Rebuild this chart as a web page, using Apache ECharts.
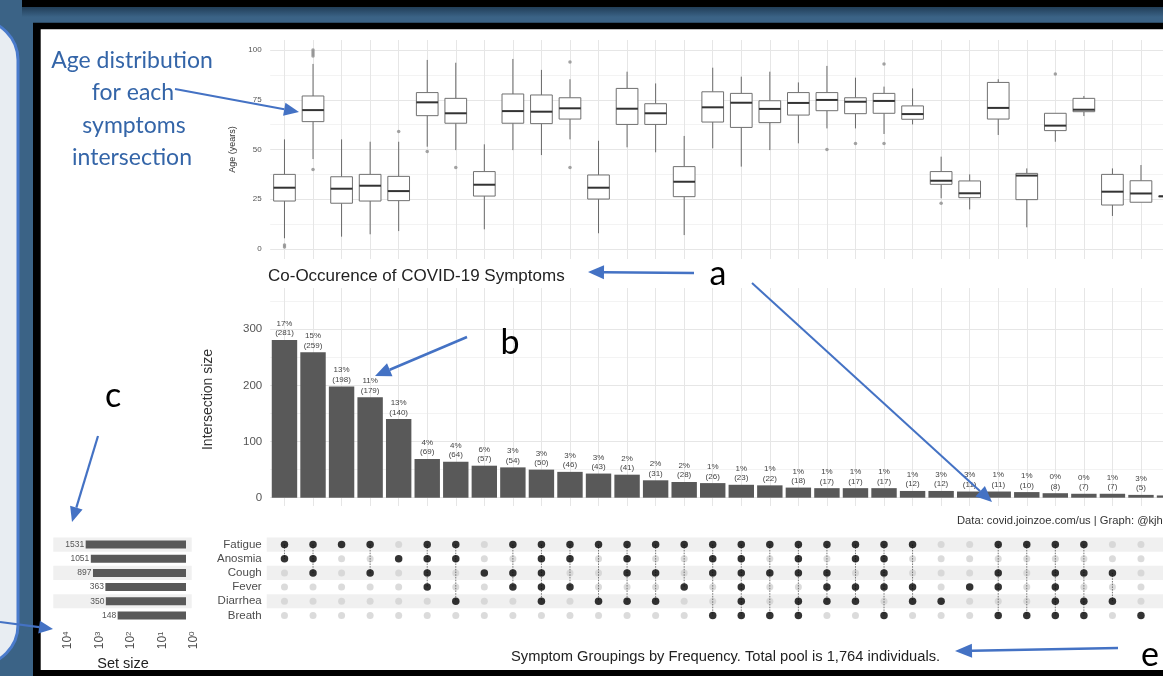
<!DOCTYPE html>
<html>
<head>
<meta charset="utf-8">
<script src="https://cdn.jsdelivr.net/npm/echarts@6/dist/echarts.min.js"></script>
<style>
  html, body { margin: 0; padding: 0; background: #3b6386; }
  #chart { width: 1163px; height: 676px; }
</style>
</head>
<body>
<div id="chart"></div>
<script>
// ---- Data -------------------------------------------------------------
const columns = ['1','2','3','4','5','6','7','8','9','10','11','12','13','14','15','16',
                 '17','18','19','20','21','22','23','24','25','26','27','28','29','30','31','32'];

// size of each symptom intersection (bar chart)
const intersectionSize = [281, 259, 198, 179, 140, 69, 64, 57, 54, 50, 46, 43, 41, 31, 28, 26,
                          23, 22, 18, 17, 17, 17, 12, 12, 11, 11, 10, 8, 7, 7, 5, 4];
const intersectionPct = ['17%','15%','13%','11%','13%','4%','4%','6%','3%','3%','3%','3%','2%','2%','2%','1%',
                         '1%','1%','1%','1%','1%','1%','1%','3%','3%','1%','1%','0%','0%','1%','3%','1%'];

// symptom sets and their sizes
const setNames = ['Fatigue', 'Anosmia', 'Cough', 'Fever', 'Diarrhea', 'Breath'];
const setSize = [1531, 1051, 897, 363, 350, 148];

// membership of each intersection (1 = symptom present)
const fatigue  = [1,1,1,1,0,1,1,0,1,1,1,1,1,1,1,1,1,1,1,1,1,1,1,0,0,1,1,1,1,0,0,0];
const anosmia  = [1,1,0,0,1,1,1,0,0,1,1,0,1,0,0,1,1,0,1,0,1,1,0,0,0,0,0,0,0,0,0,1];
const cough    = [0,1,0,1,0,1,0,1,1,1,0,0,1,1,0,1,1,1,1,1,0,1,0,0,0,1,0,1,1,1,0,1];
const fever    = [0,0,0,0,0,1,0,0,1,1,1,0,0,0,1,0,1,0,0,1,1,1,1,0,1,1,0,1,0,0,0,0];
const diarrhea = [0,0,0,0,0,0,1,0,0,1,0,1,1,1,0,0,1,0,1,1,1,0,1,1,0,0,0,1,1,1,0,0];
const breath   = [0,0,0,0,0,0,0,0,0,0,0,0,0,0,0,1,1,1,1,0,0,1,0,0,0,1,1,1,1,0,1,0];

// age distribution per intersection (whisker low, Q1, median, Q3, whisker high)
const ageMin    = [5.4, 45.2, 6.2, 7.4, 9.0, 51.4, 49.7, 9.9, 49.7, 47.2, 55.1, 7.9, 51.1, 48.6, 7.0, 50.6,
                   41.4, 49.7, 53.1, 60.6, 60.6, 57.8, 62.6, 25.5, 19.9, 57.3, 10.9, 53.9, 66.8, 16.6, 23.5, 26.5];
const ageQ1     = [24.1, 64.0, 23.0, 24.1, 24.3, 67.0, 63.2, 26.6, 63.2, 63.0, 65.3, 25.1, 62.6, 62.6, 26.3, 63.8,
                   61.1, 63.5, 67.3, 69.5, 68.0, 68.2, 65.2, 32.5, 25.8, 65.3, 24.8, 59.5, 69.0, 22.1, 23.5, 26.5];
const ageMedian = [30.8, 69.8, 30.3, 31.8, 29.1, 73.7, 68.2, 32.3, 69.3, 69.0, 70.7, 30.8, 70.5, 68.2, 33.8, 71.2,
                   73.5, 70.4, 73.4, 74.9, 74.0, 74.4, 67.8, 34.3, 28.0, 70.9, 36.9, 62.0, 70.0, 28.8, 27.9, 26.5];
const ageQ3     = [37.5, 76.9, 36.3, 37.5, 36.5, 78.6, 75.7, 38.9, 77.9, 77.4, 76.0, 37.2, 80.7, 73.0, 41.4, 79.0,
                   78.2, 74.5, 78.6, 78.6, 76.0, 78.2, 71.9, 38.9, 34.2, 83.7, 38.0, 68.2, 75.7, 37.5, 34.3, 26.5];
const ageMax    = [55.1, 93.0, 55.1, 53.9, 53.9, 95.0, 93.6, 52.6, 95.5, 90.0, 85.3, 54.4, 89.1, 83.2, 56.8, 91.1,
                   86.6, 89.1, 83.7, 92.0, 86.1, 81.6, 80.7, 46.4, 37.5, 85.3, 40.5, 68.2, 76.9, 40.5, 42.2, 26.5];

// outlying ages (intersection number, age)
const outlierColumn = [1, 1, 2, 2, 2, 2, 2, 5, 6, 7, 11, 11, 20, 21, 22, 22, 24, 28];
const outlierAge    = [1, 2, 100, 99, 98, 97, 40, 59, 49, 41, 94, 41, 50, 53, 93, 53, 23, 88];

// axis tick labels
const ageTicks = [0, 25, 50, 75, 100];
const sizeTicks = [0, 100, 200, 300];
const setSizeTicks = [1, 10, 100, 1000, 10000];

// ---- Layout ------------------------------------------------------------
const FONT = '"Liberation Sans", Arial, sans-serif';
const NOTE_FONT = 'Lato, "Open Sans", sans-serif';
const BLUE = '#4472c4';
const GRID_MAJOR = '#e6e6e6';
const GRID_MINOR = '#f3f3f3';
const PLOT_LEFT = 270.2;
const PLOT_WIDTH = 913.6;
const ROW_TOP = 537.5;
const ROW_HEIGHT = 85;

const memberRows = [fatigue, anosmia, cough, fever, diarrhea, breath];

const greyDots = [], blackDots = [], links = [];
columns.forEach((c, i) => {
  const rows = [];
  memberRows.forEach((m, r) => {
    if (m[i]) { blackDots.push([i, r]); rows.push(r); }
    else greyDots.push([i, r]);
  });
  if (rows.length > 1) links.push([i, Math.min(...rows), Math.max(...rows)]);
});

const boxData = columns.map((c, i) => [i, ageMin[i], ageQ1[i], ageMedian[i], ageQ3[i], ageMax[i]]);
const outliers = outlierColumn.map((c, k) => [columns.indexOf(String(c)), outlierAge[k]]);

function grid(o) { return Object.assign({ containLabel: false, outerBoundsMode: 'none' }, o); }

function frameX(gridIndex) {
  return {
    type: 'category', gridIndex, data: columns, boundaryGap: true,
    axisLine: { show: false }, axisTick: { show: false }, axisLabel: { show: false },
    splitLine: { show: true, interval: 0, alignWithLabel: true, lineStyle: { color: GRID_MAJOR, width: 1 } }
  };
}
function hiddenX(gridIndex) {
  return { type: 'category', gridIndex, data: columns, boundaryGap: true, show: false };
}

function arrow(x1, y1, x2, y2, w, hl, hw) {
  const a = Math.atan2(y2 - y1, x2 - x1);
  const bx = x2 - hl * Math.cos(a), by = y2 - hl * Math.sin(a);
  const px = -Math.sin(a) * hw, py = Math.cos(a) * hw;
  return [
    { type: 'line', z: 100, shape: { x1, y1, x2: bx, y2: by }, style: { stroke: BLUE, lineWidth: w } },
    { type: 'polygon', z: 100, shape: { points: [[x2, y2], [bx + px, by + py], [bx - px, by - py]] }, style: { fill: BLUE } }
  ];
}
function note(text, x, y, size, color) {
  return { type: 'text', z: 100, style: { text, x, y, font: size + 'px ' + NOTE_FONT, fill: color, align: 'center', verticalAlign: 'middle' } };
}

const chart = echarts.init(document.getElementById('chart'), null, { renderer: 'canvas' });

const option = {
  animation: false,
  backgroundColor: '#3b6386',
  textStyle: { fontFamily: FONT },
  title: [
    { text: 'Co-Occurence of COVID-19 Symptoms', left: 268, top: 268, padding: 0,
      textStyle: { fontFamily: FONT, fontSize: 17, fontWeight: 'normal', color: '#222' } },
    { text: 'Data: covid.joinzoe.com/us | Graph: @kjhealy', left: 957, top: 515, padding: 0,
      textStyle: { fontFamily: FONT, fontSize: 11.2, fontWeight: 'normal', color: '#333' } },
    { text: 'Symptom Groupings by Frequency. Total pool is 1,764 individuals.', left: 511, top: 649, padding: 0,
      textStyle: { fontFamily: FONT, fontSize: 14.7, fontWeight: 'normal', color: '#222' } }
  ],
  grid: [
    grid({ left: PLOT_LEFT, width: PLOT_WIDTH, top: 40, height: 219 }),        // 0 age frame
    grid({ left: PLOT_LEFT, width: PLOT_WIDTH, top: 50, height: 199 }),        // 1 age data
    grid({ left: PLOT_LEFT, width: PLOT_WIDTH, top: 288, height: 218 }),       // 2 bar frame
    grid({ left: PLOT_LEFT, width: PLOT_WIDTH, top: 301.2, height: 196.5 }),   // 3 bar data
    grid({ left: 266.7, width: 920, top: ROW_TOP, height: ROW_HEIGHT }),       // 4 matrix stripes
    grid({ left: PLOT_LEFT, width: PLOT_WIDTH, top: ROW_TOP, height: ROW_HEIGHT }), // 5 matrix
    grid({ left: 53.3, width: 138.4, top: ROW_TOP, height: ROW_HEIGHT }),      // 6 set-size stripes
    grid({ left: 60, width: 126, top: ROW_TOP, height: ROW_HEIGHT })           // 7 set size
  ],
  xAxis: [
    frameX(0),
    hiddenX(1),
    frameX(2),
    hiddenX(3),
    { type: 'value', gridIndex: 4, show: false, min: 0, max: 1 },
    hiddenX(5),
    { type: 'value', gridIndex: 6, show: false, min: 0, max: 1 },
    {
      type: 'log', gridIndex: 7, logBase: 10, min: 1, max: 10000, inverse: true,
      axisLine: { show: false }, axisTick: { show: false }, splitLine: { show: false },
      axisLabel: {
        rotate: 90, margin: 9, color: '#4d4d4d',
        formatter: v => setSizeTicks.includes(v) ? '{b|10}{s|' + Math.round(Math.log10(v)) + '}' : '',
        rich: {
          b: { fontFamily: FONT, fontSize: 12, color: '#4d4d4d', padding: [16, 0, 0, 0] },
          s: { fontFamily: FONT, fontSize: 8, color: '#4d4d4d', verticalAlign: 'top', padding: [16, 0, 0, 0] }
        }
      },
      name: 'Set size', nameLocation: 'middle', nameGap: 33.5,
      nameTextStyle: { fontFamily: FONT, fontSize: 14.5, color: '#222' }
    }
  ],
  yAxis: [
    { type: 'value', gridIndex: 0, show: false, min: 0, max: 1 },
    {
      type: 'value', gridIndex: 1, min: 0, max: 100, interval: 12.5,
      axisLine: { show: false }, axisTick: { show: false },
      axisLabel: { margin: 8.5, fontSize: 8, color: '#555', formatter: v => ageTicks.includes(v) ? String(v) : '' },
      splitLine: { show: true, lineStyle: { color: [GRID_MAJOR, GRID_MINOR], width: 1 } },
      name: 'Age (years)', nameLocation: 'middle', nameGap: 33,
      nameTextStyle: { fontFamily: FONT, fontSize: 9, color: '#333' }
    },
    { type: 'value', gridIndex: 2, show: false, min: 0, max: 1 },
    {
      type: 'value', gridIndex: 3, min: 0, max: 350, interval: 50,
      axisLine: { show: false }, axisTick: { show: false },
      axisLabel: { margin: 8, fontSize: 11.5, color: '#555', formatter: v => sizeTicks.includes(v) ? String(v) : '' },
      splitLine: { show: true, lineStyle: { color: [GRID_MAJOR, GRID_MINOR], width: 1 } },
      name: 'Intersection size', nameLocation: 'middle', nameGap: 55,
      nameTextStyle: { fontFamily: FONT, fontSize: 14, color: '#333' }
    },
    {
      type: 'category', gridIndex: 4, data: setNames, inverse: true, boundaryGap: true,
      axisLine: { show: false }, axisTick: { show: false }, axisLabel: { show: false },
      splitLine: { show: false },
      splitArea: { show: true, interval: 0, areaStyle: { color: ['#f0f0f0', 'rgba(255,255,255,0)'] } }
    },
    {
      type: 'category', gridIndex: 5, data: setNames, inverse: true, boundaryGap: true,
      axisLine: { show: false }, axisTick: { show: false }, splitLine: { show: false },
      axisLabel: { interval: 0, margin: 8.5, fontSize: 11.5, color: '#4d4d4d' }
    },
    {
      type: 'category', gridIndex: 6, data: setNames, inverse: true, boundaryGap: true,
      axisLine: { show: false }, axisTick: { show: false }, axisLabel: { show: false },
      splitLine: { show: false },
      splitArea: { show: true, interval: 0, areaStyle: { color: ['#f0f0f0', 'rgba(255,255,255,0)'] } }
    },
    {
      type: 'category', gridIndex: 7, data: setNames, inverse: true, boundaryGap: true, show: false
    }
  ],
  series: [
    {
      // age box plots
      type: 'custom', xAxisIndex: 1, yAxisIndex: 1, data: boxData,
      encode: { x: 0, y: [1, 2, 3, 4, 5] },
      renderItem: function (params, api) {
        const i = api.value(0);
        const pMin = api.coord([i, api.value(1)]);
        const pQ1 = api.coord([i, api.value(2)]);
        const pMed = api.coord([i, api.value(3)]);
        const pQ3 = api.coord([i, api.value(4)]);
        const pMax = api.coord([i, api.value(5)]);
        const w = api.size([1, 0])[0] * 0.76;
        const x = pMed[0];
        return {
          type: 'group',
          children: [
            { type: 'line', shape: { x1: x, y1: pMax[1], x2: x, y2: pQ3[1] }, style: { stroke: '#5a5a5a', lineWidth: 0.9 } },
            { type: 'line', shape: { x1: x, y1: pQ1[1], x2: x, y2: pMin[1] }, style: { stroke: '#5a5a5a', lineWidth: 0.9 } },
            { type: 'rect', shape: { x: x - w / 2, y: pQ3[1], width: w, height: Math.max(pQ1[1] - pQ3[1], 0.5) },
              style: { fill: '#fff', stroke: '#707070', lineWidth: 1 } },
            { type: 'line', shape: { x1: x - w / 2, y1: pMed[1], x2: x + w / 2, y2: pMed[1] }, style: { stroke: '#333', lineWidth: 2 } }
          ]
        };
      },
      z: 3
    },
    {
      type: 'scatter', xAxisIndex: 1, yAxisIndex: 1, data: outliers,
      symbol: 'circle', symbolSize: 3.5, itemStyle: { color: '#8c8c8c' }, z: 4
    },
    {
      // intersection sizes
      type: 'bar', xAxisIndex: 3, yAxisIndex: 3, data: intersectionSize,
      barCategoryGap: '11%', itemStyle: { color: '#595959' },
      label: {
        show: true, position: 'top', distance: 2, fontFamily: FONT, fontSize: 8, lineHeight: 9.5, color: '#444',
        formatter: p => intersectionPct[p.dataIndex] + '\n(' + p.value + ')'
      }
    },
    {
      type: 'scatter', xAxisIndex: 5, yAxisIndex: 5, data: greyDots,
      symbolSize: 7, itemStyle: { color: '#d2d2d2' }, z: 2
    },
    {
      type: 'custom', xAxisIndex: 5, yAxisIndex: 5, data: links,
      encode: { x: 0, y: [1, 2] },
      renderItem: function (params, api) {
        const a = api.coord([api.value(0), api.value(1)]);
        const b = api.coord([api.value(0), api.value(2)]);
        return { type: 'line', shape: { x1: a[0], y1: a[1], x2: b[0], y2: b[1] },
                 style: { stroke: '#555', lineWidth: 0.8, lineDash: [1.5, 1.2] } };
      },
      z: 3
    },
    {
      type: 'scatter', xAxisIndex: 5, yAxisIndex: 5, data: blackDots,
      symbolSize: 7.5, itemStyle: { color: '#000' }, z: 4
    },
    {
      // set sizes on reversed log axis
      type: 'bar', xAxisIndex: 7, yAxisIndex: 7, data: setSize,
      barWidth: 8, itemStyle: { color: '#595959' },
      label: { show: true, position: 'left', distance: 1.5, fontFamily: FONT, fontSize: 8.5, color: '#555' }
    }
  ],
  graphic: [
    // slide background
    { type: 'rect', z: -100, shape: { x: 22, y: 0, width: 1141, height: 7 }, style: { fill: '#000' } },
    { type: 'rect', z: -100, shape: { x: 22, y: 7, width: 1141, height: 10 },
      style: { fill: new echarts.graphic.LinearGradient(0, 0, 0, 1, [{ offset: 0, color: '#223e58' }, { offset: 1, color: '#3b6386' }]) } },
    { type: 'rect', z: -100, shape: { x: -62, y: 20, width: 80, height: 645, r: 50 },
      style: { fill: '#e8edf2', stroke: '#4a7bcc', lineWidth: 3 } },
    { type: 'rect', z: -100, shape: { x: 33, y: 22.7, width: 1140, height: 660 }, style: { fill: '#000' } },
    { type: 'rect', z: -99, shape: { x: 40.7, y: 29.3, width: 1130, height: 640.7 }, style: { fill: '#fff' } },
    // annotations
    note('Age distribution', 132, 61, 23, '#3465a8'),
    note('for each', 133, 93, 23, '#3465a8'),
    note('symptoms', 134, 126, 23, '#3465a8'),
    note('intersection', 132, 158, 23, '#3465a8'),
    ...arrow(175, 89, 299, 112, 2.2, 15, 6.5),
    note('a', 718, 274, 34, '#000'),
    ...arrow(694, 273, 588, 272, 2.5, 16, 7),
    ...arrow(752, 283, 992, 502, 2, 16, 7),
    note('b', 510, 343, 34, '#000'),
    ...arrow(467, 337, 375, 376, 2.5, 16, 7),
    note('c', 113, 396, 34, '#000'),
    ...arrow(98, 436, 72, 522, 2.2, 15, 6.5),
    ...arrow(0, 622, 53, 629, 2.2, 14, 6.5),
    note('e', 1150, 655, 34, '#000'),
    ...arrow(1118, 648, 955, 651, 2.5, 17, 7)
  ]
};

chart.setOption(option);
</script>
</body>
</html>
